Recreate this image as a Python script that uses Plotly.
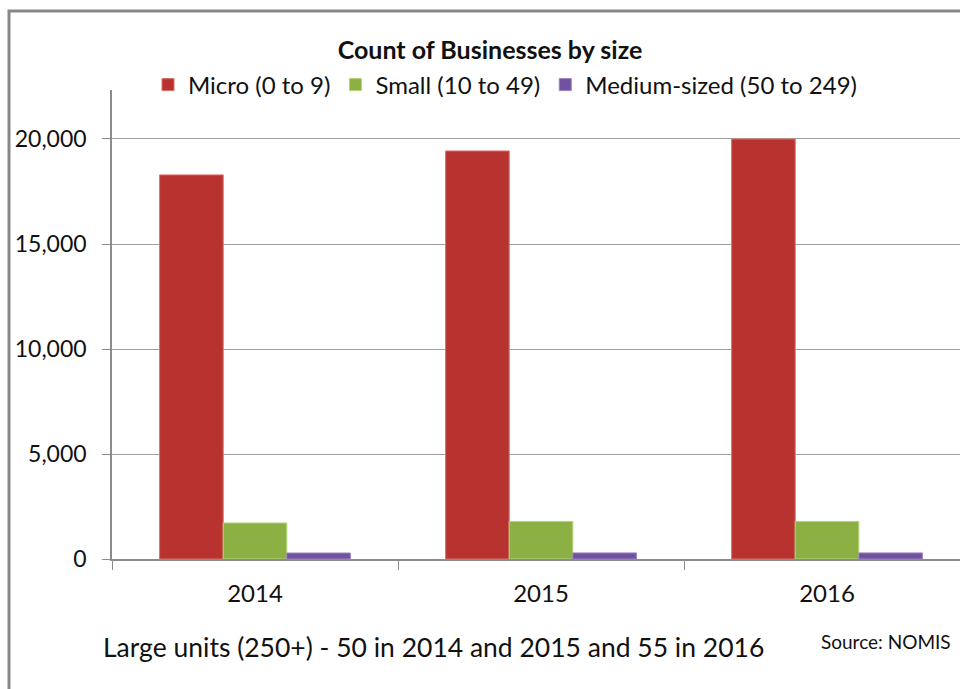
import plotly.graph_objects as go

years = ["2014", "2015", "2016"]
micro = [18290, 19430, 20000]
small = [1715, 1790, 1790]
medium = [285, 290, 290]
series_names = ["Micro (0 to 9)", "Small (10 to 49)", "Medium-sized (50 to 249)"]
series_colors = ["#B8332F", "#8CB043", "#7152A0"]
line_colors = ["#D9706B", "#B5D47A", "#9A82C0"]
y_ticks = [0, 5000, 10000, 15000, 20000]
y_tick_text = ["0", "5,000", "10,000", "15,000", "20,000"]

FONT = "Lato, 'Open Sans', sans-serif"

fig = go.Figure()
for name, vals, col, lc in zip(series_names, [micro, small, medium], series_colors, line_colors):
    fig.add_trace(go.Bar(
        x=years, y=vals, name=name,
        marker=dict(color=col, line=dict(color=lc, width=1)),
    ))

fig.update_layout(
    width=960, height=689,
    paper_bgcolor="white", plot_bgcolor="white",
    barmode="group", bargap=0.333, bargroupgap=0,
    margin=dict(l=112, r=0, t=90, b=130, autoexpand=False),
    font=dict(family=FONT, color="#111111", size=22),
    title=dict(text="<b>Count of Businesses by size</b>", x=490/960, xref="container",
               xanchor="center", y=1 - 50/689, yref="container", yanchor="middle",
               font=dict(size=25, family=FONT, color="#111111")),
    legend=dict(orientation="h", x=505/960, xref="container", xanchor="center",
                y=1 - 85/689, yref="container", yanchor="middle",
                font=dict(size=24, family=FONT), itemwidth=30, traceorder="normal",
                bgcolor="rgba(0,0,0,0)"),
    xaxis=dict(range=[-0.5, 2.465], showline=True, linecolor="#8C8C8C", linewidth=1.5,
               ticks="outside", tickson="boundaries", ticklen=9, tickcolor="#8C8C8C",
               showgrid=False, ticklabelstandoff=12, tickfont=dict(size=24)),
    yaxis=dict(range=[0, 22333], tickvals=y_ticks, ticktext=y_tick_text,
               showline=True, linecolor="#8C8C8C", linewidth=1.5,
               ticks="outside", ticklen=8, tickcolor="#8C8C8C",
               showgrid=True, gridcolor="#A0A0A0", gridwidth=1.2,
               zeroline=False, ticklabelstandoff=11, tickfont=dict(size=23)),
    showlegend=True,
)

fig.add_annotation(text="Large units (250+) - 50 in 2014 and 2015 and 55 in 2016",
                   xref="paper", yref="paper", x=(433 - 112) / 848, y=-(647 - 559) / 469,
                   xanchor="center", yanchor="middle", showarrow=False,
                   font=dict(size=26.5, family=FONT, color="#111111"))
fig.add_annotation(text="Source: NOMIS",
                   xref="paper", yref="paper", x=(953 - 112) / 848, y=-(641 - 559) / 469,
                   xanchor="right", yanchor="middle", showarrow=False,
                   font=dict(size=19, family=FONT, color="#111111"))

# chart frame (top and left edges visible)
fig.add_shape(type="rect", xref="paper", yref="paper",
              x0=-(112 - 9) / 848, x1=1.05, y0=-0.5, y1=1 + (90 - 11) / 469,
              line=dict(color="#878787", width=3), layer="below")

fig.write_html("out.html", config={"displayModeBar": False},
               post_script="document.body.style.margin='0';document.body.style.overflow='hidden';")
